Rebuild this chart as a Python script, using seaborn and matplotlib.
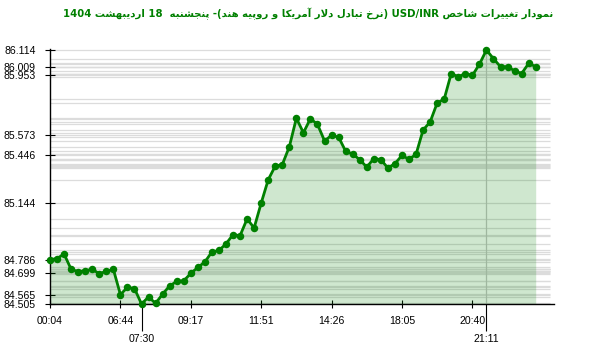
import re
import numpy as np
import pandas as pd
import matplotlib
matplotlib.use("Agg")
import matplotlib.pyplot as plt
import seaborn as sns

# ---------------- data ----------------
title_text = "نمودار تغییرات شاخص USD/INR (نرخ تبادل دلار آمریکا و روپیه هند)- پنجشنبه  18 اردیبهشت 1404"

values = [
    84.786, 84.793, 84.822, 84.725, 84.710, 84.716, 84.725, 84.697, 84.712, 84.725,
    84.565, 84.610, 84.603, 84.505, 84.550, 84.509, 84.568, 84.620, 84.648, 84.652,
    84.699, 84.737, 84.771, 84.835, 84.844, 84.886, 84.944, 84.938, 85.044, 84.987,
    85.144, 85.292, 85.379, 85.388, 85.501, 85.682, 85.590, 85.679, 85.643, 85.539,
    85.573, 85.562, 85.473, 85.454, 85.420, 85.372, 85.426, 85.420, 85.366, 85.394,
    85.446, 85.422, 85.453, 85.607, 85.658, 85.778, 85.803, 85.965, 85.944, 85.965,
    85.953, 86.023, 86.114, 86.059, 86.008, 86.008, 85.982, 85.965, 86.029, 86.009,
]
tick_idx = [0, 10, 20, 30, 40, 50, 60]
tick_labels = ["00:04", "06:44", "09:17", "11:51", "14:26", "18:05", "20:40"]
special_idx = [13, 62]
special_labels = ["07:30", "21:11"]
ytick_values = [86.114, 86.009, 85.953, 85.573, 85.446, 85.144, 84.786, 84.699, 84.565, 84.505]

# ---------------- Persian shaping (presentation forms) ----------------
FORMS = {
    "\u0627": ("\uFE8D", "\uFE8E", None, None),
    "\u0622": ("\uFE81", "\uFE82", None, None),
    "\u0628": ("\uFE8F", "\uFE90", "\uFE91", "\uFE92"),
    "\u067E": ("\uFB56", "\uFB57", "\uFB58", "\uFB59"),
    "\u062A": ("\uFE95", "\uFE96", "\uFE97", "\uFE98"),
    "\u062C": ("\uFE9D", "\uFE9E", "\uFE9F", "\uFEA0"),
    "\u062E": ("\uFEA5", "\uFEA6", "\uFEA7", "\uFEA8"),
    "\u062F": ("\uFEA9", "\uFEAA", None, None),
    "\u0631": ("\uFEAD", "\uFEAE", None, None),
    "\u0634": ("\uFEB5", "\uFEB6", "\uFEB7", "\uFEB8"),
    "\u0635": ("\uFEB9", "\uFEBA", "\uFEBB", "\uFEBC"),
    "\u063A": ("\uFECD", "\uFECE", "\uFECF", "\uFED0"),
    "\u06A9": ("\uFB8E", "\uFB8F", "\uFB90", "\uFB91"),
    "\u0643": ("\uFED9", "\uFEDA", "\uFEDB", "\uFEDC"),
    "\u0644": ("\uFEDD", "\uFEDE", "\uFEDF", "\uFEE0"),
    "\u0645": ("\uFEE1", "\uFEE2", "\uFEE3", "\uFEE4"),
    "\u0646": ("\uFEE5", "\uFEE6", "\uFEE7", "\uFEE8"),
    "\u0647": ("\uFEE9", "\uFEEA", "\uFEEB", "\uFEEC"),
    "\u0648": ("\uFEED", "\uFEEE", None, None),
    "\u06CC": ("\uFBFC", "\uFBFD", "\uFBFE", "\uFBFF"),
    "\u064A": ("\uFEF1", "\uFEF2", "\uFEF3", "\uFEF4"),
}
LAMALEF = {"\u0627": ("\uFEFB", "\uFEFC"), "\u0622": ("\uFEF5", "\uFEF6")}


def shape(s):
    out, i, n = [], 0, len(s)
    while i < n:
        c = s[i]
        if c not in FORMS:
            out.append(c)
            i += 1
            continue
        prev = s[i - 1] if i > 0 else ""
        cp = prev in FORMS and FORMS[prev][2] is not None
        if c == "\u0644" and i + 1 < n and s[i + 1] in LAMALEF:
            lig = LAMALEF[s[i + 1]]
            out.append(lig[1] if cp else lig[0])
            i += 2
            continue
        nxt = s[i + 1] if i + 1 < n else ""
        cn = FORMS[c][2] is not None and nxt in FORMS
        iso, fin, ini, med = FORMS[c]
        out.append(med if (cp and cn) else fin if cp else ini if cn else iso)
        i += 1
    return "".join(out)


def visual(s):
    runs = re.findall(r"[A-Za-z0-9/.]+|[^A-Za-z0-9/.]+", s)
    mirror = {"(": ")", ")": "("}
    out = []
    for r in reversed(runs):
        if re.match(r"[A-Za-z0-9]", r[0]):
            out.append(r)
        else:
            out.append("".join(mirror.get(ch, ch) for ch in reversed(r)))
    return "".join(out)


# ---------------- plot ----------------
df = pd.DataFrame({"idx": np.arange(len(values)), "value": values})

W, H = 600, 352
fig = plt.figure(figsize=(W / 100, H / 100), dpi=100)
ax_left, ax_right, ax_top, ax_bottom = 50, 554, 49, 304
ax = fig.add_axes([ax_left / W, 1 - ax_bottom / H, (ax_right - ax_left) / W, (ax_bottom - ax_top) / H])

ymin = min(values)
ymax = max(values)
px_per_unit = (304 - 50) / (ymax - ymin)
ax.set_ylim(ymin, ymax + 1 / px_per_unit)
ax.set_xlim(0, 71.6)

green = "#008000"
# horizontal guide lines at each value
ax.hlines(values, 0, 71.0, color="#dcdcdc", lw=0.9, zorder=1)
# vertical line at the maximum
imax = int(np.argmax(values))
ax.vlines(imax, ymin, ymax, color="#c4c4c4", lw=0.9, zorder=1)

ax.fill_between(df["idx"], df["value"], ymin, color=green, alpha=0.19, lw=0, zorder=2)
sns.lineplot(data=df, x="idx", y="value", ax=ax, color=green, lw=2.0,
             marker="o", markersize=5.4, markeredgewidth=0, zorder=3, clip_on=False)

for s in ["top", "right"]:
    ax.spines[s].set_visible(False)
for s in ["left", "bottom"]:
    ax.spines[s].set_color("black")
    ax.spines[s].set_linewidth(1)

lab_font = dict(family="Liberation Sans", size=7.6)
ax.set_yticks(ytick_values)
ax.set_yticklabels([f"{v:.3f}" for v in ytick_values], **lab_font)
ax.tick_params(axis="y", direction="inout", length=7.2, width=0.8, pad=6.5, colors="black")

ax.set_xticks(tick_idx)
ax.set_xticklabels(tick_labels, **lab_font)
ax.tick_params(axis="x", which="major", direction="inout", length=6, width=0.8, pad=6)
ax.set_xticks(special_idx, minor=True)
ax.set_xticklabels(special_labels, minor=True, **lab_font)
ax.tick_params(axis="x", which="minor", direction="out", length=19.5, width=0.8, pad=1.8)
mt = ax.xaxis.get_minor_ticks()
mt[1].tick1line.set_color("#c4c4c4")

ax.set_xlabel("")
ax.set_ylabel("")
ax.set_facecolor("white")
ax.grid(False)

fig.text(308 / W, 1 - 14 / H, visual(shape(title_text)), ha="center", va="center",
         color=green, fontsize=7.3, fontweight="bold", family="DejaVu Sans")

fig.savefig("out.png", dpi=100, facecolor="white")
